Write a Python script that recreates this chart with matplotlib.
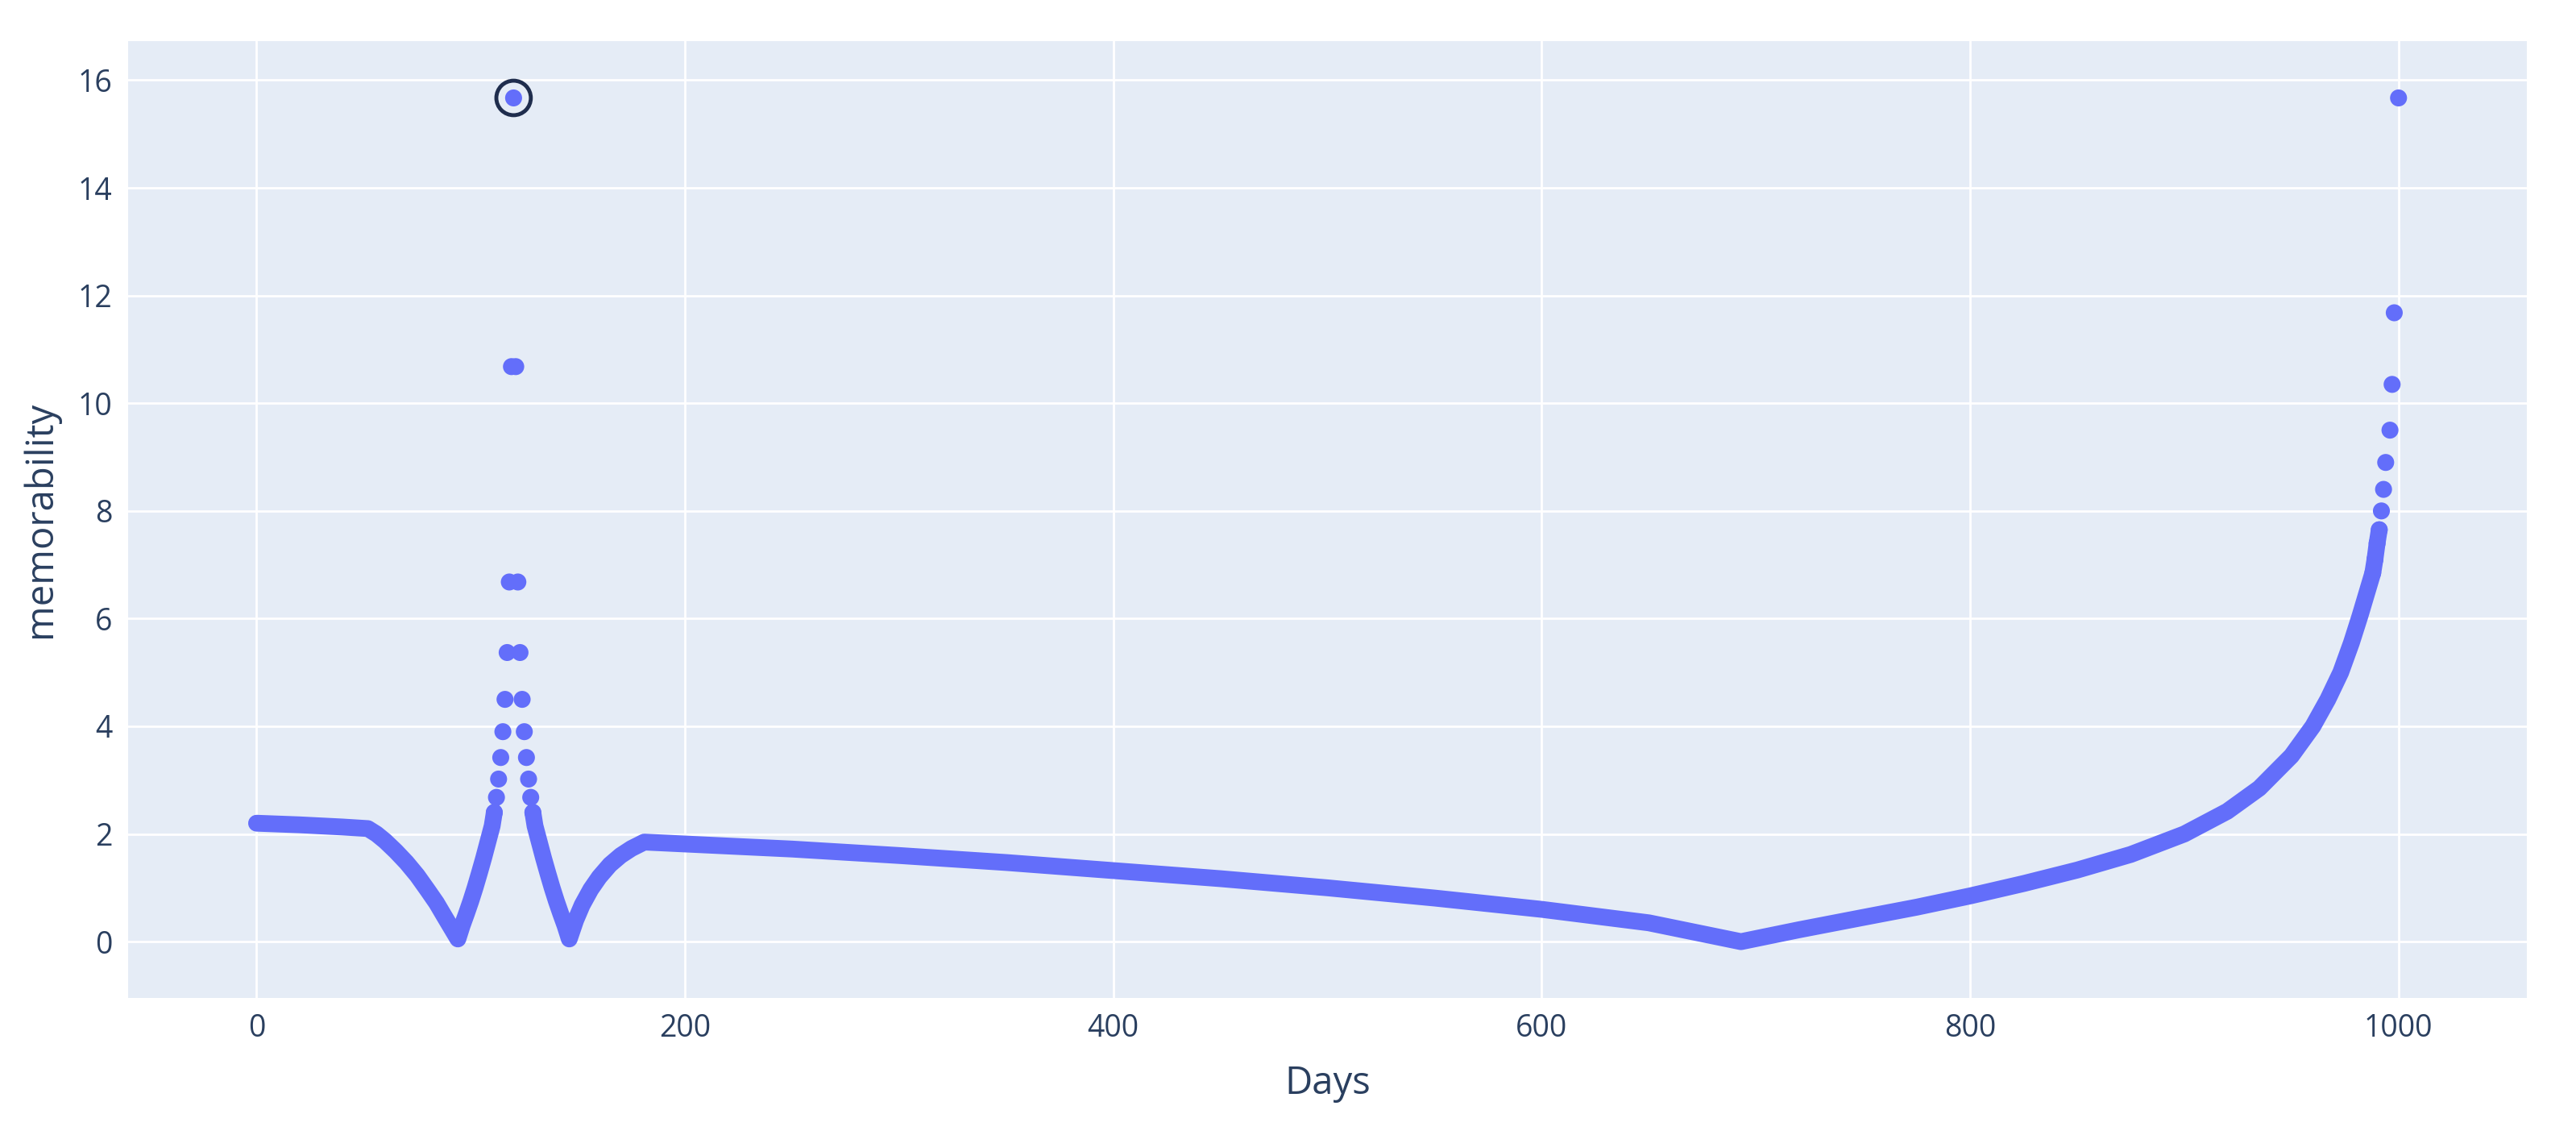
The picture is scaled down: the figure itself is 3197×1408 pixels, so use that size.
import matplotlib
matplotlib.use("Agg")
import matplotlib.pyplot as plt

# smooth rising/falling parts of the memorability curve
days = [0, 20, 40, 52, 56, 60, 65, 70, 75, 80, 84, 88, 91, 94,
        96, 98, 100, 102, 104, 106, 108, 110]
vals = [2.2, 2.17, 2.13, 2.1, 2.0, 1.87, 1.68, 1.47, 1.23, 0.95, 0.72, 0.45, 0.25, 0.05,
        0.3, 0.52, 0.75, 1.0, 1.27, 1.55, 1.85, 2.15]
# peak around day 120 (single dots)
peak_days = [111, 112, 113, 114, 115, 116, 117, 118, 119, 120,
             121, 122, 123, 124, 125, 126, 127, 128, 129]
peak_vals = [2.4, 2.68, 3.02, 3.42, 3.9, 4.5, 5.37, 6.68, 10.68, 15.67,
             10.68, 6.68, 5.37, 4.5, 3.9, 3.42, 3.02, 2.68, 2.4]
days2 = [130, 132, 134, 136, 138, 140, 142, 144, 146, 149, 152, 156, 160, 165, 170, 175, 181,
         250, 300, 350, 400, 450, 500, 550, 600, 650, 693,
         720, 750, 775, 800, 825, 850, 875, 900, 920, 935, 950, 960, 967, 973, 978, 982, 985, 988]
vals2 = [2.15, 1.85, 1.55, 1.27, 1.0, 0.75, 0.52, 0.3, 0.05, 0.4, 0.68, 0.97, 1.2, 1.43, 1.6, 1.73, 1.85,
         1.72, 1.6, 1.47, 1.32, 1.17, 1.0, 0.81, 0.6, 0.35, 0.0,
         0.22, 0.45, 0.64, 0.85, 1.08, 1.33, 1.62, 2.0, 2.42, 2.85, 3.45, 4.0, 4.5, 5.0, 5.55, 6.05, 6.45, 6.85]
# last days: dots spread apart
tail_days = [989, 990, 991, 992, 993, 994, 996, 997, 998, 1000]
tail_vals = [7.1, 7.4, 7.65, 8.0, 8.4, 8.9, 9.5, 10.35, 11.68, 15.67]
hover_day, hover_val = 120, 15.67

color = "#636EFA"
text_col = "#2a3f5f"
plt.rcParams["font.family"] = ["Open Sans", "DejaVu Sans"]

fig = plt.figure(figsize=(31.97, 14.08), dpi=100)
ax = fig.add_axes([0.0497, 0.121, 0.9313, 0.843])
ax.set_facecolor("#E5ECF6")
line_kw = dict(color=color, lw=15, solid_capstyle="round", solid_joinstyle="round", zorder=3)
ax.plot(days + peak_days[:1], vals + peak_vals[:1], **line_kw)
ax.plot(peak_days[-1:] + days2, peak_vals[-1:] + vals2, **line_kw)
ax.plot(days2[-1:] + tail_days[:3], vals2[-1:] + tail_vals[:3], **line_kw)
ax.scatter(peak_days + tail_days, peak_vals + tail_vals, s=230, color=color,
           edgecolors="none", zorder=4)
ax.scatter([hover_day], [hover_val], s=950, facecolors="none",
           edgecolors="#1f2d4d", linewidths=3.5, zorder=5)

ax.set_xlim(-60, 1060)
ax.set_ylim(-1.04, 16.73)
ax.set_xticks([0, 200, 400, 600, 800, 1000])
ax.set_yticks(range(0, 17, 2))
ax.grid(True, color="white", lw=2)
ax.set_axisbelow(True)
for s in ax.spines.values():
    s.set_visible(False)
ax.tick_params(length=0, labelsize=27, colors=text_col, pad=14)
ax.set_xlabel("Days", fontsize=34, color=text_col, labelpad=18)
ax.set_ylabel("memorability", fontsize=34, color=text_col, labelpad=16)
fig.savefig("out.png", dpi=100)
